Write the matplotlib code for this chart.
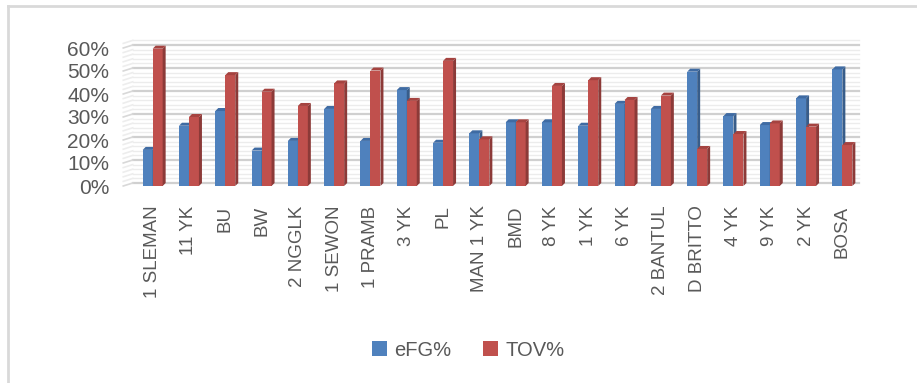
import matplotlib
matplotlib.use("Agg")
import matplotlib.pyplot as plt
import matplotlib.transforms as mtransforms
from matplotlib.patches import Polygon, Patch
from matplotlib.lines import Line2D
import numpy as np

# data
teams = ["1 SLEMAN", "11 YK", "BU", "BW", "2 NGGLK", "1 SEWON", "1 PRAMB", "3 YK",
         "PL", "MAN 1 YK", "BMD", "8 YK", "1 YK", "6 YK", "2 BANTUL", "D BRITTO",
         "4 YK", "9 YK", "2 YK", "BOSA"]
efg = [0.157, 0.262, 0.326, 0.154, 0.196, 0.335, 0.196, 0.417, 0.188, 0.229,
       0.277, 0.277, 0.262, 0.357, 0.335, 0.497, 0.304, 0.265, 0.381, 0.507]
tov = [0.597, 0.300, 0.482, 0.410, 0.348, 0.446, 0.502, 0.370, 0.544, 0.203,
       0.277, 0.435, 0.460, 0.374, 0.393, 0.161, 0.226, 0.272, 0.258, 0.178]
yticks = [0, 0.1, 0.2, 0.3, 0.4, 0.5, 0.6]
ytick_labels = ["0%", "10%", "20%", "30%", "40%", "50%", "60%"]

plt.rcParams['font.family'] = ['Liberation Sans', 'DejaVu Sans']

BLUE, BLUE_SIDE, BLUE_TOP = "#4F81BD", "#385D8A", "#3F6BA3"
RED, RED_SIDE, RED_TOP = "#C0504D", "#8C3A38", "#A54340"
TXT = "#595959"

fig = plt.figure(figsize=(9.17, 3.83), dpi=100)
ax = fig.add_axes([132.7 / 917, 1 - 186 / 383, 726 / 917, 142.6 / 383])

x = np.arange(len(teams))
w = 0.275
dx = 3 / 36.3   # depth offset in data units (x)
dy = 3 / 230    # depth offset in data units (y)

ax.set_xlim(-0.55, 19.45)
ax.set_ylim(0, 0.62)

# back wall grid, shifted up to fake depth
shift = mtransforms.offset_copy(ax.get_yaxis_transform(), fig=fig, x=0, y=3, units='dots')
for v in np.arange(0, 0.621, 0.02):
    major = abs(round(v * 100) % 10) < 1e-6
    ax.plot([0, 1], [v, v], transform=shift, clip_on=False,
            color="#d0d0d0" if major else "#ececec", lw=1.6 if major else 1.0, zorder=0)
    ax.plot([-0.013, 0], [v - 0.013, v], transform=shift, clip_on=False,
            color="#d8d8d8" if major else "#ededed", lw=1.2, zorder=0)


def bar3d(xs, vals, front, side, top):
    for xi, v in zip(xs, vals):
        ax.add_patch(Polygon([(xi, 0), (xi + w, 0), (xi + w, v), (xi, v)],
                             closed=True, fc=front, ec='none', zorder=3))
        ax.add_patch(Polygon([(xi + w, 0), (xi + w + dx, dy), (xi + w + dx, v + dy), (xi + w, v)],
                             closed=True, fc=side, ec='none', zorder=3))
        ax.add_patch(Polygon([(xi, v), (xi + dx, v + dy), (xi + w + dx, v + dy), (xi + w, v)],
                             closed=True, fc=top, ec='none', zorder=3))


bar3d(x - w, efg, BLUE, BLUE_SIDE, BLUE_TOP)
bar3d(x, tov, RED, RED_SIDE, RED_TOP)

for s in ax.spines.values():
    s.set_visible(False)
ax.set_yticks(yticks)
ax.set_yticklabels(ytick_labels)
ax.set_xticks(x)
ax.set_xticklabels(teams, rotation=90, va='top', ha='center')
ax.tick_params(axis='x', length=0, pad=14, labelsize=13.5, labelcolor=TXT)
ax.tick_params(axis='y', length=0, pad=17, labelsize=15, labelcolor=TXT)

handles = [Patch(fc=BLUE, ec='none', label="eFG%"), Patch(fc=RED, ec='none', label="TOV%")]
fig.legend(handles=handles, loc='center', bbox_to_anchor=(468 / 917, 1 - 350 / 383),
           ncol=2, frameon=False, fontsize=14.5, handlelength=0.75, handleheight=0.75,
           handletextpad=0.35, columnspacing=1.6, labelcolor=TXT)

# outer frame (only top and left visible)
fig.add_artist(Line2D([8 / 917, 8 / 917], [0, 1 - 6 / 383], color="#d9d9d9", lw=2))
fig.add_artist(Line2D([8 / 917, 1], [1 - 6 / 383, 1 - 6 / 383], color="#d9d9d9", lw=2))

fig.savefig("out.png", dpi=100)
